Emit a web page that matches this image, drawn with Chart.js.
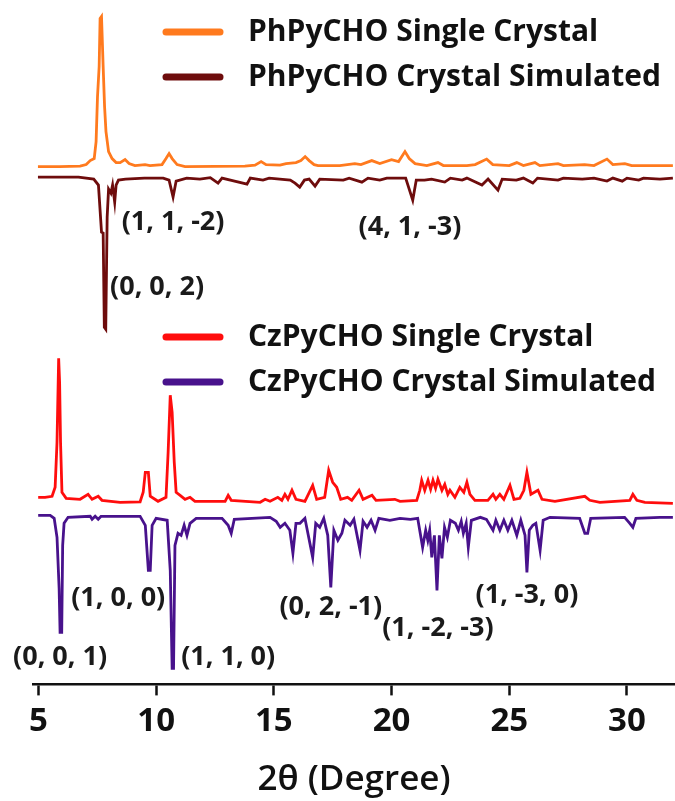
<!DOCTYPE html>
<html>
<head>
<meta charset="utf-8">
<script src="https://cdn.jsdelivr.net/npm/chart.js@4.4.1/dist/chart.umd.min.js"></script>
<style>
  html, body { margin: 0; padding: 0; background: #fff; }
  #wrap { width: 675px; height: 801px; }
</style>
</head>
<body>
<div id="wrap"><canvas id="xrdChart" width="675" height="801"></canvas></div>
<script>
// x axis ticks (2 theta, degree)
const xTicks = [5, 10, 15, 20, 25, 30];

// PhPyCHO single crystal (measured), 2theta / intensity
const phSingleTheta = [4.98, 5.9, 6.77, 7.03, 7.2, 7.37, 7.45, 7.51, 7.58, 7.62, 7.68, 7.75, 7.81, 7.87, 7.98, 8.13, 8.3, 8.47, 8.68, 8.85, 9.1, 9.53, 9.74, 10.25, 10.42, 10.55, 10.68, 10.89, 11.23, 13.77, 14.2, 14.46, 14.67, 15.26, 15.52, 15.94, 16.15, 16.33, 16.5, 16.71, 16.88, 17.8, 18.44, 18.7, 19.16, 19.5, 20.0, 20.3, 20.57, 20.75, 21.0, 21.5, 21.97, 22.2, 23.2, 23.55, 24.04, 24.3, 25.0, 25.32, 25.6, 26.09, 26.3, 27.07, 27.3, 28.2, 28.6, 29.15, 29.4, 29.91, 30.2, 31.95];
const phSingleInt   = [0, 0, 0.5, 2, 6, 8, 25, 70, 100, 148, 150, 100, 60, 35, 15, 8, 4, 4, 7, 3, 1, 2, 1, 2, 8, 13, 8, 2, 0, 0.5, 1.5, 5, 2, 1.5, 3, 4, 6, 10, 6, 2, 1, 1, 3, 2, 6, 3, 7, 5, 15, 8, 3, 1, 4, 1, 1, 2, 7.5, 2, 1, 4, 1, 4, 1, 3, 1, 2, 1, 7.5, 2, 3, 1, 1];

// PhPyCHO crystal simulated
const phSimTheta = [4.98, 6.7, 7.35, 7.55, 7.68, 7.75, 7.8, 7.86, 7.92, 7.98, 8.08, 8.15, 8.24, 8.3, 8.4, 8.7, 9.5, 10.3, 10.55, 10.72, 10.85, 11.3, 11.86, 12.3, 12.63, 12.8, 13.86, 14.0, 14.54, 14.8, 15.7, 15.9, 16.1, 16.3, 16.5, 16.75, 16.95, 17.95, 18.2, 18.74, 19.0, 19.5, 19.8, 20.6, 20.9, 21.05, 21.4, 21.7, 22.26, 22.5, 23.0, 23.2, 23.84, 24.1, 24.52, 24.7, 25.3, 25.6, 26.0, 26.2, 27.07, 27.3, 28.1, 28.6, 29.15, 29.4, 29.8, 30.0, 30.5, 30.7, 31.4, 31.95];
const phSimInt   = [0, 0, 2, 8, 55, 56, 150, 152, 40, 12, 16, 8, 25, 8, 3, 2, 1, 1, 3, 20, 4, 1, 2, 0.5, 6, 1, 7, 1, 3, 1, 3, 6, 10, 3, 2, 9, 2, 3, 1, 5, 1, 3, 1, 1, 23, 3, 3, 2, 5, 1, 3, 1, 8, 2, 13, 2, 3, 1, 6, 1, 3, 1, 2, 1, 4, 1, 4, 1, 3, 1, 2, 1];

// CzPyCHO single crystal (measured)
const czSingleTheta = [4.99, 5.28, 5.58, 5.71, 5.79, 5.86, 5.9, 5.94, 6.0, 6.18, 6.77, 7.11, 7.28, 7.54, 7.7, 8.47, 9.32, 9.45, 9.54, 9.67, 9.75, 10.08, 10.42, 10.51, 10.6, 10.68, 10.77, 10.85, 11.02, 11.23, 11.44, 11.65, 12.93, 13.06, 13.19, 14.42, 14.63, 14.84, 15.17, 15.34, 15.47, 15.6, 15.77, 15.94, 16.32, 16.65, 16.82, 17.16, 17.33, 17.5, 17.67, 17.84, 18.13, 18.31, 18.62, 18.79, 19.17, 19.34, 20.14, 20.36, 21.07, 21.2, 21.28, 21.41, 21.55, 21.66, 21.76, 21.87, 21.97, 22.14, 22.26, 22.39, 22.48, 22.69, 22.9, 23.07, 23.2, 23.33, 23.54, 24.09, 24.31, 24.43, 24.6, 24.77, 25.03, 25.2, 25.45, 25.62, 25.75, 25.92, 26.22, 26.39, 26.94, 28.21, 28.42, 28.85, 30.12, 30.25, 30.42, 30.76, 31.95];
const czSingleInt   = [5, 5, 6, 15, 60, 144, 120, 60, 10, 4, 3, 8, 3, 6, 2, 0, 0.5, 10, 30, 30, 6, 1, 5, 50, 107, 90, 40, 10, 7, 3, 5, 1, 1, 7, 2, 0, 3, 1, 5, 2, 8, 3, 12, 3, 1, 17, 3, 5, 32, 20, 15, 3, 5, 2, 12, 3, 7, 2, 3, 1, 2, 12, 22, 12, 22, 13, 22, 14, 23, 12, 18, 8, 12, 5, 15, 10, 20, 8, 2, 2, 8, 3, 8, 3, 17, 3, 4, 12, 30, 8, 12, 3, 1, 6, 2, 0, 2, 8, 2, 0, -1];

// CzPyCHO crystal simulated
const czSimTheta = [4.99, 5.5, 5.67, 5.79, 5.88, 5.92, 5.99, 6.03, 6.09, 6.26, 7.2, 7.28, 7.41, 7.54, 7.66, 9.32, 9.54, 9.67, 9.75, 9.83, 10.0, 10.47, 10.6, 10.68, 10.74, 10.8, 10.93, 11.06, 11.19, 11.31, 11.44, 11.7, 12.8, 13.06, 13.19, 13.32, 14.84, 15.1, 15.27, 15.47, 15.68, 15.81, 15.94, 16.11, 16.32, 16.65, 16.78, 16.95, 17.12, 17.29, 17.42, 17.55, 17.72, 17.89, 18.02, 18.24, 18.4, 18.66, 18.79, 18.96, 19.13, 19.3, 19.46, 19.93, 20.36, 20.8, 21.11, 21.32, 21.45, 21.54, 21.62, 21.71, 21.82, 21.93, 22.03, 22.14, 22.25, 22.37, 22.5, 22.71, 22.84, 22.96, 23.05, 23.17, 23.26, 23.39, 23.77, 24.03, 24.31, 24.43, 24.6, 24.77, 24.94, 25.11, 25.32, 25.49, 25.67, 25.75, 25.85, 26.0, 26.13, 26.31, 26.44, 26.73, 27.99, 28.21, 28.33, 28.46, 29.9, 30.12, 30.25, 30.38, 31.4, 31.95];
const czSimInt   = [0, 0, 3, 22, 73, 117, 117, 30, 8, 2, 1, 4, 1, 4, 1, 1, 10, 55, 55, 10, 3, 5, 55, 153, 153, 30, 18, 20, 10, 20, 8, 3, 3, 10, 18, 4, 2, 6, 12, 8, 15, 38, 8, 8, 3, 42, 8, 12, 3, 20, 72, 15, 25, 18, 5, 10, 4, 35, 6, 12, 5, 15, 3, 5, 3, 4, 3, 32, 15, 25, 15, 42, 20, 75, 20, 43, 12, 22, 5, 8, 15, 6, 18, 8, 32, 5, 2, 4, 15, 5, 15, 5, 15, 5, 20, 5, 20, 57, 15, 10, 8, 35, 5, 2, 3, 18, 18, 3, 2, 8, 12, 3, 2, 2];

// Miller index labels
const hklText  = ['(1, 1, -2)', '(0, 0, 2)', '(4, 1, -3)', '(1, 0, 0)', '(0, 0, 1)', '(1, 1, 0)', '(0, 2, -1)', '(1, -2, -3)', '(1, -3, 0)'];
const hklTheta = [10.72, 10.04, 20.78, 8.39, 5.92, 13.06, 17.42, 21.97, 25.75];
const hklY     = [462, 397, 457, 86, 27, 27, 77, 56, 89];

const seriesNames = ['PhPyCHO Single Crystal', 'PhPyCHO Crystal Simulated', 'CzPyCHO Single Crystal', 'CzPyCHO Crystal Simulated'];
const seriesColors = ['#ff7a1e', '#6e0c0c', '#ff0d0d', '#48128c'];

// vertical offsets of the stacked patterns (y units)
const offsets = [517.5, 507, 182, 169];

function makePoints(theta, inten, base, sign) {
    return theta.map((t, i) => ({ x: t, y: base + sign * inten[i] }));
}

const patterns = [
    makePoints(phSingleTheta, phSingleInt, offsets[0], 1),
    makePoints(phSimTheta, phSimInt, offsets[1], -1),
    makePoints(czSingleTheta, czSingleInt, offsets[2], 1),
    makePoints(czSimTheta, czSimInt, offsets[3], -1)
];

const datasets = patterns.map((pts, i) => ({
    label: seriesNames[i],
    data: pts,
    borderColor: seriesColors[i],
    backgroundColor: seriesColors[i],
    borderWidth: 2.8,
    pointRadius: 0,
    tension: 0,
    fill: false
}));

// legend rows + hkl labels drawn on top
const extrasPlugin = {
    id: 'extras',
    afterDatasetsDraw(chart) {
        const ctx = chart.ctx;
        const legendRows = [32, 77, 337, 382];
        ctx.save();
        seriesNames.forEach((name, i) => {
            const y = legendRows[i];
            ctx.strokeStyle = seriesColors[i];
            ctx.lineWidth = 7;
            ctx.lineCap = 'round';
            ctx.beginPath();
            ctx.moveTo(166, y);
            ctx.lineTo(220, y);
            ctx.stroke();
            ctx.fillStyle = '#111';
            ctx.font = 'bold 30px "Open Sans"';
            ctx.textAlign = 'left';
            ctx.textBaseline = 'middle';
            ctx.fillText(name, 248, y);
        });
        const xs = chart.scales.x, ys = chart.scales.y;
        ctx.fillStyle = '#1a1a1a';
        ctx.font = 'bold 27px "Open Sans"';
        ctx.textAlign = 'center';
        ctx.textBaseline = 'middle';
        hklText.forEach((t, i) => {
            ctx.fillText(t, xs.getPixelForValue(hklTheta[i]), ys.getPixelForValue(hklY[i]));
        });
        ctx.restore();
    }
};

const config = {
    type: 'line',
    data: { datasets: datasets },
    options: {
        responsive: false,
        animation: false,
        devicePixelRatio: 1,
        layout: { padding: { left: 33, right: 0, top: 0, bottom: 0 } },
        plugins: { legend: { display: false }, tooltip: { enabled: false } },
        scales: {
            x: {
                type: 'linear',
                min: 4.77,
                max: 32.04,
                afterBuildTicks: (scale) => { scale.ticks = xTicks.map(v => ({ value: v })); },
                border: { display: true, color: '#111', width: 2.5 },
                grid: { display: true, drawOnChartArea: false, drawTicks: true, tickLength: 11, tickColor: '#111', tickWidth: 2.5 },
                ticks: { color: '#111', font: { family: 'Open Sans', size: 33, weight: 'bold' }, padding: 6, maxRotation: 0 },
                title: { display: true, text: '2θ (Degree)', color: '#111', font: { family: 'Open Sans', size: 35, weight: '600' }, padding: { top: 12, bottom: 0 } }
            },
            y: {
                display: false,
                min: 0,
                max: 684
            }
        }
    },
    plugins: [extrasPlugin]
};

const xrdChart = new Chart(document.getElementById('xrdChart').getContext('2d'), config);
</script>
</body>
</html>
